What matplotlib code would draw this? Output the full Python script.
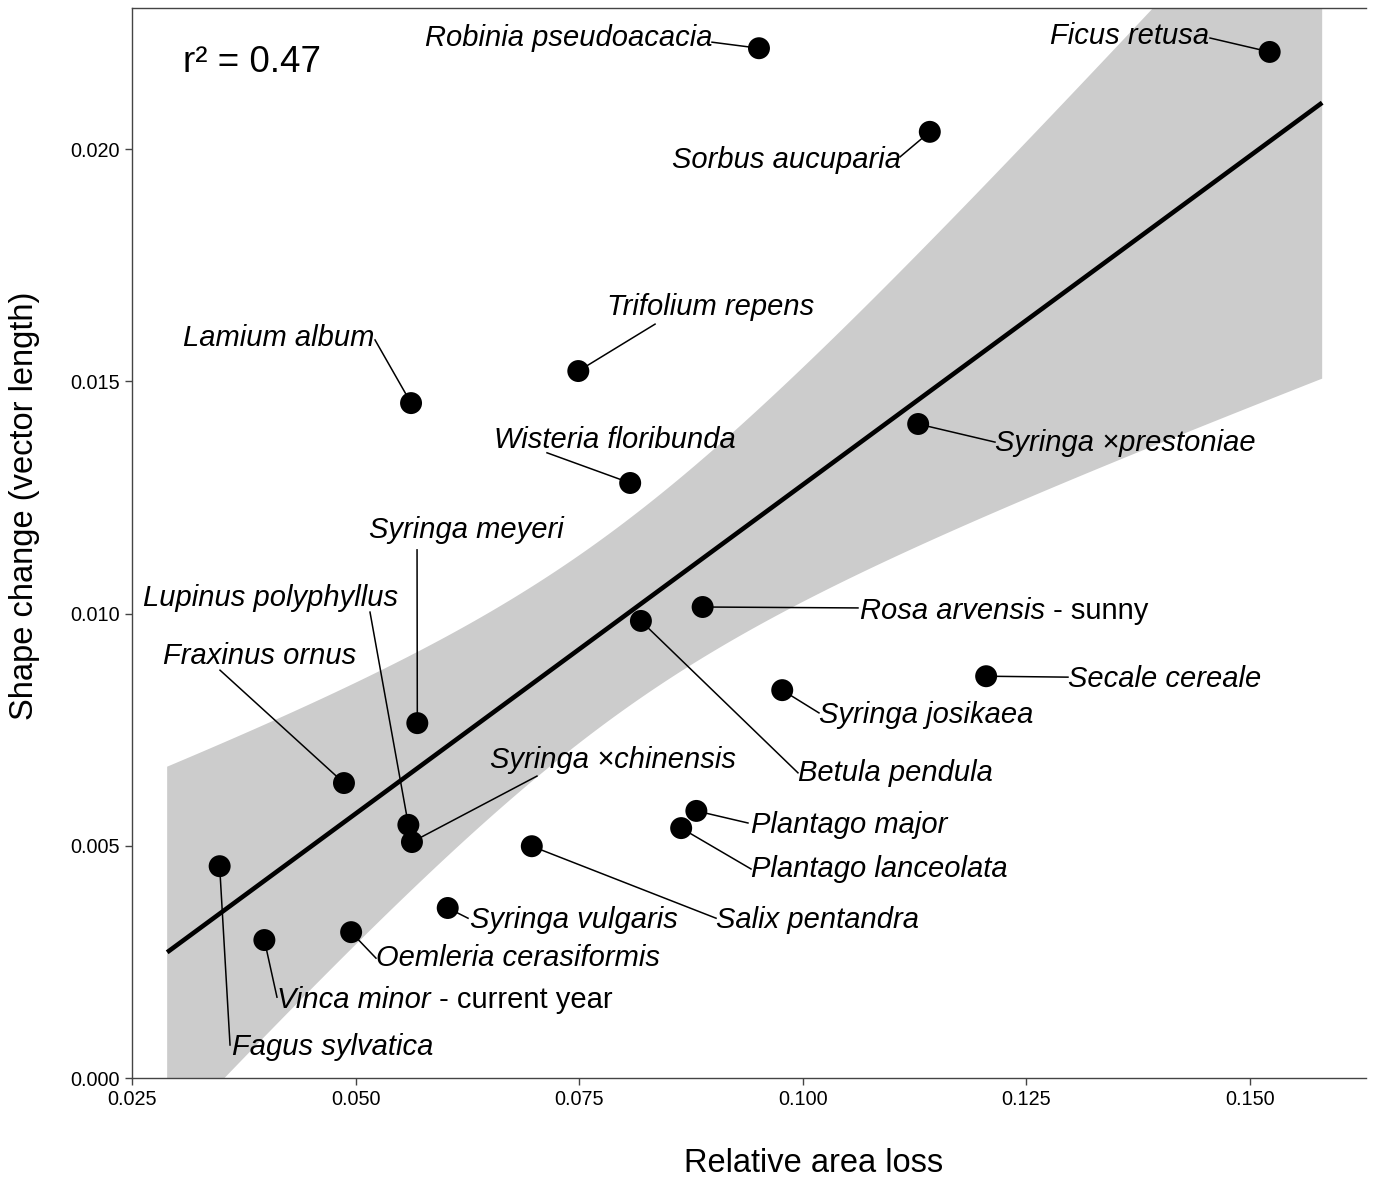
import numpy as np
import matplotlib
matplotlib.use("Agg")
import matplotlib.pyplot as plt

plt.rcParams['font.family'] = ['Liberation Sans', 'DejaVu Sans']

# species, italic part and plain suffix
species = ["Robinia pseudoacacia", "Ficus retusa", "Sorbus aucuparia", "Trifolium repens",
           "Lamium album", "Syringa \u00d7prestoniae", "Wisteria floribunda", "Rosa arvensis",
           "Betula pendula", "Secale cereale", "Syringa josikaea", "Syringa meyeri",
           "Fraxinus ornus", "Plantago major", "Lupinus polyphyllus", "Plantago lanceolata",
           "Syringa \u00d7chinensis", "Salix pentandra", "Fagus sylvatica", "Syringa vulgaris",
           "Oemleria cerasiformis", "Vinca minor"]
suffix = ["", "", "", "", "", "", "", " - sunny", "", "", "", "", "", "", "", "", "", "", "",
          "", "", " - current year"]

area_loss = [0.0951, 0.1522, 0.1142, 0.0749, 0.0562, 0.1129, 0.0807, 0.0888,
             0.0819, 0.1205, 0.0977, 0.0569, 0.0487, 0.0881, 0.0559, 0.0864,
             0.0563, 0.0697, 0.0348, 0.0603, 0.0495, 0.0398]
shape_change = [0.02217, 0.02209, 0.02037, 0.01522, 0.01453, 0.01408, 0.01281, 0.01014,
                0.00984, 0.00865, 0.00835, 0.00764, 0.00635, 0.00575, 0.00545, 0.00538,
                0.00508, 0.00499, 0.00456, 0.00366, 0.00314, 0.00297]

# label placement (left edge / vertical centre of text) and where the leader line ends
label_x = [0.05776, 0.12764, 0.08538, 0.07811, 0.0307, 0.12149, 0.06547, 0.1064,
           0.09946, 0.12965, 0.10181, 0.0515, 0.02847, 0.09421, 0.02623, 0.09421,
           0.06503, 0.0903, 0.03618, 0.06279, 0.05228, 0.04121]
label_y = [0.02239, 0.02243, 0.01976, 0.01660, 0.01593, 0.01367, 0.01374, 0.01005,
           0.00657, 0.00859, 0.00781, 0.0118, 0.00909, 0.00545, 0.01033, 0.0045,
           0.00685, 0.0034, 0.00067, 0.0034, 0.00258, 0.00168]
seg_x = [0.08985, 0.14553, 0.11087, 0.08348, 0.05217, 0.12149, 0.0714, 0.10617,
         0.09946, 0.12965, 0.10181, 0.05687, 0.03484, 0.09387, 0.05161, 0.09421,
         0.07028, 0.0903, 0.03596, 0.06257, 0.05228, 0.04121]
seg_y = [0.02230, 0.02239, 0.01983, 0.01623, 0.01589, 0.01369, 0.01346, 0.01012,
         0.00657, 0.00863, 0.00786, 0.01137, 0.00878, 0.00549, 0.01003, 0.0045,
         0.0065, 0.00344, 0.00071, 0.00344, 0.00258, 0.00174]

x = np.array(area_loss)
y = np.array(shape_change)

fig = plt.figure(figsize=(13.83, 11.77), dpi=100)
ax = fig.add_axes([132 / 1383, 99 / 1177, 1234 / 1383, 1070 / 1177])

# linear fit with 95% confidence band over the expanded data range
n = len(x)
slope, intercept = np.polyfit(x, y, 1)
span = x.max() - x.min()
xs = np.linspace(x.min() - 0.05 * span, x.max() + 0.05 * span, 200)
resid = y - (slope * x + intercept)
s = np.sqrt(np.sum(resid ** 2) / (n - 2))
sxx = np.sum((x - x.mean()) ** 2)
se = s * np.sqrt(1 / n + (xs - x.mean()) ** 2 / sxx)
t = 2.086
fit = slope * xs + intercept
ax.fill_between(xs, fit - t * se, fit + t * se, color='#cccccc', lw=0, zorder=1)
ax.plot(xs, fit, color='black', lw=3.3, zorder=2, solid_capstyle='butt')

for i in range(n):
    ax.plot([x[i], seg_x[i]], [y[i], seg_y[i]], color='black', lw=1.1, zorder=3)
    tx = ax.text(label_x[i], label_y[i], species[i], style='italic', fontsize=21,
                 ha='left', va='center', zorder=4)
    if suffix[i]:
        ax.annotate(suffix[i], xy=(1, 0), xycoords=tx, ha='left', va='bottom',
                    fontsize=21, zorder=4)

ax.scatter(x, y, s=250, color='black', edgecolor='none', zorder=5)

ax.text(0.0307, 0.02187, "r\u00b2 = 0.47", fontsize=26.5, ha='left', va='center')

ax.set_xlim(0.025, 0.16297)
ax.set_ylim(0, 0.023036)
ax.set_xticks([0.025, 0.05, 0.075, 0.1, 0.125, 0.15])
ax.set_xticklabels(["0.025", "0.050", "0.075", "0.100", "0.125", "0.150"])
ax.set_yticks([0, 0.005, 0.01, 0.015, 0.02])
ax.set_yticklabels(["0.000", "0.005", "0.010", "0.015", "0.020"])
ax.tick_params(labelsize=14.3, length=5, width=1, color='#444444', labelcolor='black')
for side in ['left', 'bottom', 'top']:
    ax.spines[side].set_color('#444444')
    ax.spines[side].set_linewidth(1)
ax.spines['right'].set_visible(False)

fig.text(814 / 1383, 1 - 1163 / 1177, "Relative area loss", fontsize=23.5,
         ha='center', va='center')
fig.text(25 / 1383, 1 - 506 / 1177, "Shape change (vector length)", fontsize=23.5,
         ha='center', va='center', rotation=90)

fig.savefig("out.png", dpi=100)
